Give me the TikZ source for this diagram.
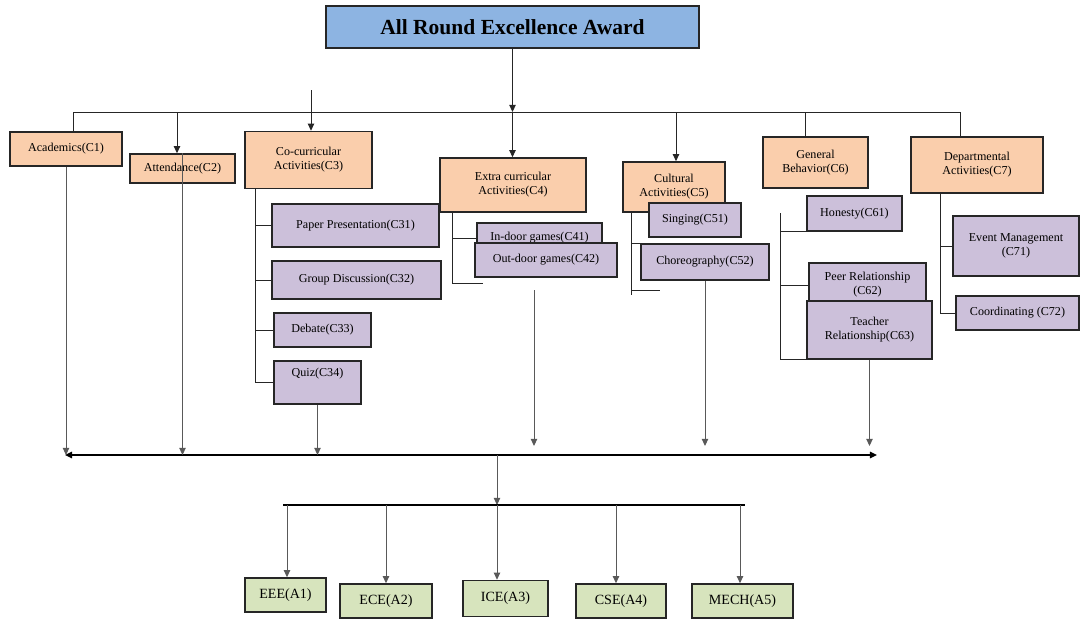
\documentclass[tikz,border=0pt]{standalone}
\usepackage{fontspec}
\setmainfont{Liberation Serif}
\usetikzlibrary{arrows.meta}
\definecolor{awardblue}{RGB}{141,180,226}
\definecolor{critorange}{RGB}{250,206,172}
\definecolor{sublilac}{RGB}{204,192,218}
\definecolor{deptgreen}{RGB}{215,228,189}
\newcommand{\pxu}{0.025cm}
\tikzset{
        boxsize/.style 2 args={minimum width=#1*\pxu, minimum height=#2*\pxu},
        box/.style={draw=black!85, line width=1.1pt, inner sep=1pt, align=center, font=\fontsize{8.6}{10}\selectfont},
        title/.style={box, fill=awardblue, font=\bfseries\fontsize{15.3}{17}\selectfont},
        crit/.style={box, fill=critorange},
        subcrit/.style={box, fill=sublilac},
        dept/.style={box, fill=deptgreen, font=\fontsize{10}{11}\selectfont},
        wire/.style={draw=black!85, line width=0.7pt},
        arr/.style={wire, -{Triangle[length=5pt,width=4.5pt]}},
        downarr/.style={arr, draw=black!65},
        bus/.style={draw=black, line width=1.1pt}
          }

\begin{document}
\begin{tikzpicture}[x=\pxu, y=-\pxu]
        \useasboundingbox (0,0) rectangle (1080,619);
        % award and criteria
        \node[title, boxsize={373}{42}] (award) at (512.5,27) {All Round Excellence Award};
        \node[crit, boxsize={112}{34}] (c1) at (66,149) {Academics(C1)};
        \node[crit, boxsize={105}{29}] (c2) at (182.5,168.5) {Attendance(C2)};
        \node[crit, boxsize={127}{57}] (c3) at (308.5,160) {Co-curricular\\Activities(C3)};
        \node[crit, boxsize={146}{54}] (c4) at (513,185) {Extra curricular\\Activities(C4)};
        \node[crit, boxsize={102}{50}] (c5) at (674,187) {Cultural\\Activities(C5)};
        \node[crit, boxsize={105}{51}] (c6) at (815.5,162.5) {General\\Behavior(C6)};
        \node[crit, boxsize={132}{56}] (c7) at (977,165) {Departmental\\Activities(C7)};
        % sub criteria
        \node[subcrit, boxsize={167}{43}] (c31) at (355.5,225.5) {Paper Presentation(C31)};
        \node[subcrit, boxsize={169}{38}] (c32) at (356.5,280) {Group Discussion(C32)};
        \node[subcrit, boxsize={97}{34}] (c33) at (322.5,330) {Debate(C33)};
        \node[subcrit, boxsize={87}{43}] (c34) at (317.5,382.5) {Quiz(C34)\\[4pt]};
        \node[subcrit, boxsize={125}{30}] (c41) at (539.5,238) {In-door games(C41)};
        \node[subcrit, boxsize={142}{34}] (c42) at (546,260) {Out-door games(C42)};
        \node[subcrit, boxsize={92}{34}] (c51) at (695,220) {Singing(C51)};
        \node[subcrit, boxsize={128}{36}] (c52) at (705,262) {Choreography(C52)};
        \node[subcrit, boxsize={95}{35}] (c61) at (854.5,213.5) {Honesty(C61)};
        \node[subcrit, boxsize={117}{44}] (c62) at (867.5,285) {Peer Relationship\\(C62)};
        \node[subcrit, boxsize={125}{58}] (c63) at (869.5,330) {Teacher\\Relationship(C63)};
        \node[subcrit, boxsize={126}{60}] (c71) at (1016,246) {Event Management\\(C71)};
        \node[subcrit, boxsize={123}{34}] (c72) at (1017.5,313) {Coordinating (C72)};
        % departments
        \node[dept, boxsize={81}{34}] (a1) at (285.5,595) {EEE(A1)};
        \node[dept, boxsize={92}{34}] (a2) at (386,601) {ECE(A2)};
        \node[dept, boxsize={85}{36}] (a3) at (505.5,598.5) {ICE(A3)};
        \node[dept, boxsize={90}{34}] (a4) at (621,601) {CSE(A4)};
        \node[dept, boxsize={101}{34}] (a5) at (742.5,601) {MECH(A5)};

        % top distribution line
        \coordinate (topL) at (73,112);
        \coordinate (topR) at (960,112);
        \coordinate (t2) at (177,112);
        \coordinate (t3) at (311,90);
        \coordinate (t5) at (676,112);
        \coordinate (t6) at (805,112);
        \draw[wire] (topL |- c1.north) -- (topL) -- (topR) -- (topR |- c7.north);
        \draw[wire] (t6) -- (t6 |- c6.north);
        \draw[arr] (award) -- (award |- topL);
        \draw[arr] (award |- topL) -- (award |- c4.north);
        \draw[arr] (t2) -- (t2 |- c2.north);
        \draw[arr] (t3) -- (t3 |- c3.north);
        \draw[arr] (t5) -- (t5 |- c5.north);

        % sub criteria links
        \coordinate (s3) at (255,383);
        \draw[wire] (s3 |- c3.south) -- (s3);
        \foreach \n in {31,32,33,34}
          \draw[wire] (s3 |- c\n.west) -- (c\n.west);
        \coordinate (s4) at (452,283);
        \draw[wire] (s4 |- c4.south) -- (s4) -- ++(31,0);
        \draw[wire] (s4 |- c41.west) -- (c41.west);
        \coordinate (s5) at (631,290);
        \draw[wire] (s5 |- c5.south) -- (631,295);
        \draw[wire] (s5 |- c52.north) -- ++(29,0);
        \draw[wire] (s5) -- ++(29,0);
        \coordinate (s6) at (780,213);
        \draw[wire] (s6) -- (s6 |- c63.south west) -- (c63.south west);
        \draw[wire] (s6 |- c61.south west) -- (c61.south west);
        \draw[wire] (s6 |- c62.west) -- (c62.west);
        \coordinate (s7) at (940,313);
        \draw[wire] (s7 |- c7.south) -- (s7) -- (c72.west);
        \draw[wire] (s7 |- c71.west) -- (c71.west);

        % collecting bus
        \coordinate (busL) at (65,455);
        \coordinate (busR) at (877,455);
        \coordinate (busHi) at (0,446);
        \coordinate (f4) at (534,290);
        \draw[bus, {Triangle[length=5pt,width=4.5pt]}-{Triangle[length=5pt,width=4.5pt]}] (busL) -- (busR);
        \draw[downarr] (c1.south) -- (c1.south |- busL);
        \draw[downarr] (c2.north) -- (c2.north |- busL);
        \draw[downarr] (c34.south) -- (c34.south |- busL);
        \draw[downarr] (f4) -- (f4 |- busHi);
        \draw[downarr] (c52.south) -- (c52.south |- busHi);
        \draw[downarr] (c63.south) -- (c63.south |- busHi);

        % departments
        \coordinate (drop) at (497,455);
        \coordinate (hubL) at (283,505);
        \coordinate (hubR) at (745,505);
        \draw[downarr] (drop) -- (drop |- hubL);
        \draw[bus] (hubL) -- (hubR);
        \foreach \a/\x in {a1/287, a2/386, a3/497, a4/616, a5/740}{
          \coordinate (d) at (\x,505);
          \draw[downarr] (d) -- (d |- \a.north);
        }
\end{tikzpicture}
\end{document}
